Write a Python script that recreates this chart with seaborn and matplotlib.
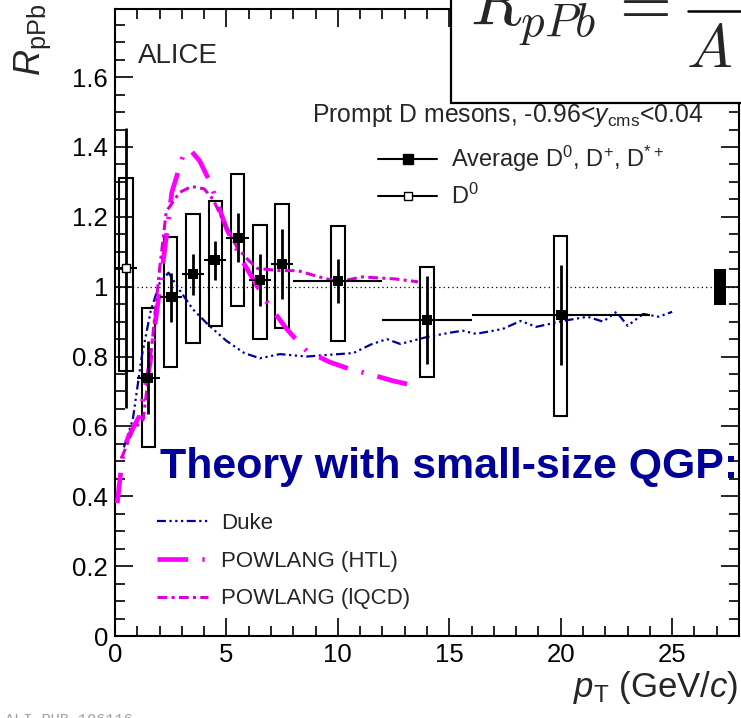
import numpy as np
import pandas as pd
import matplotlib
matplotlib.use("Agg")
import matplotlib.pyplot as plt
import seaborn as sns
from matplotlib.lines import Line2D
from matplotlib.patches import Rectangle
from matplotlib.ticker import MultipleLocator, FuncFormatter

# ---------------- data ----------------
# average of D0, D+, D*+ (filled squares)
pt_avg = np.array([1.5, 2.5, 3.5, 4.5, 5.5, 6.5, 7.5, 10.0, 14.0, 20.0])
pt_avg_lo = np.array([1, 2, 3, 4, 5, 6, 7, 8, 12, 16])
pt_avg_hi = np.array([2, 3, 4, 5, 6, 7, 8, 12, 16, 24])
rppb_avg = np.array([0.74, 0.97, 1.035, 1.075, 1.14, 1.02, 1.065, 1.015, 0.905, 0.92])
stat_avg = np.array([0.105, 0.07, 0.058, 0.057, 0.07, 0.074, 0.10, 0.063, 0.127, 0.143])
syst_avg_up = np.array([0.20, 0.172, 0.173, 0.17, 0.182, 0.158, 0.171, 0.159, 0.151, 0.225])
syst_avg_dn = np.array([0.20, 0.199, 0.197, 0.188, 0.194, 0.169, 0.183, 0.17, 0.164, 0.29])

# D0 only, lowest pT bin (open square)
pt_d0 = np.array([0.5])
pt_d0_lo = np.array([0.0])
pt_d0_hi = np.array([1.0])
rppb_d0 = np.array([1.054])
stat_d0 = np.array([0.40])
syst_d0_up = np.array([0.256])
syst_d0_dn = np.array([0.295])

# normalisation uncertainty
norm_unc = 0.052

# model curves
duke_pt = [0.4, 0.8, 1.2, 1.6, 2.0, 2.4, 2.9, 3.5, 4.2, 5.0, 5.8, 6.5, 7.4, 8.6, 9.6,
           10.7, 11.5, 12.2, 12.8, 14.0, 15.0, 15.6, 16.2, 17.4, 18.2, 18.9, 20.1,
           21.2, 21.9, 22.5, 23.0, 23.7, 24.4, 25.0]
duke_r = [0.54, 0.62, 0.80, 0.93, 1.01, 1.04, 0.99, 0.935, 0.89, 0.845, 0.81, 0.795,
          0.807, 0.80, 0.805, 0.81, 0.835, 0.85, 0.836, 0.856, 0.868, 0.874, 0.865,
          0.879, 0.902, 0.885, 0.902, 0.914, 0.90, 0.928, 0.888, 0.922, 0.914, 0.928]

htl_pt = [0.1, 0.37, 0.6, 1.1, 1.57, 2.0, 2.55, 3.1, 3.4, 3.8, 4.26, 5.0, 5.74, 6.8,
          7.7, 8.6, 9.64, 10.5, 11.4, 12.5, 13.7]
htl_r = [0.38, 0.53, 0.57, 0.63, 0.78, 0.99, 1.27, 1.385, 1.39, 1.36, 1.30, 1.167,
         1.071, 0.957, 0.879, 0.816, 0.784, 0.765, 0.75, 0.73, 0.713]

lqcd_pt = [0.3, 0.8, 1.27, 1.6, 2.0, 2.3, 2.9, 3.44, 4.0, 4.4, 5.0, 5.5, 6.0, 6.4,
           7.4, 8.2, 9.06, 10.0, 11.1, 12.6, 13.6]
lqcd_r = [0.51, 0.59, 0.62, 0.80, 1.05, 1.215, 1.27, 1.287, 1.28, 1.25, 1.17, 1.11,
          1.075, 1.052, 1.046, 1.046, 1.03, 1.014, 1.028, 1.022, 1.014]

model_labels = ["Duke", "POWLANG (HTL)", "POWLANG (lQCD)"]

# ---------------- style ----------------
sns.set_theme(style="ticks")
plt.rcParams["font.family"] = ["Liberation Sans", "DejaVu Sans"]
plt.rcParams["mathtext.fontset"] = "custom"
plt.rcParams["mathtext.rm"] = "Liberation Sans"
plt.rcParams["mathtext.it"] = "Liberation Sans:italic"
plt.rcParams["mathtext.bf"] = "Liberation Sans:bold"

NAVY = "#000099"
MAG = "#ff00ff"
MAG2 = "#d900d9"

W, H = 741, 718
fig = plt.figure(figsize=(W / 100, H / 100), dpi=100)
ax = fig.add_axes([115 / W, 1 - 636 / H, (739 - 115) / W, (636 - 9) / H])
ax.set_xlim(0, 28)
ax.set_ylim(0, 1.795)

# reference line at unity
ax.axhline(1.0, color="black", lw=0.9, ls=(0, (1, 2.5)), zorder=1)

# systematic boxes
ax.bar(pt_avg, syst_avg_up + syst_avg_dn, bottom=rppb_avg - syst_avg_dn, width=0.6,
       fill=False, edgecolor="black", linewidth=1.5, zorder=2)
ax.bar(pt_d0, syst_d0_up + syst_d0_dn, bottom=rppb_d0 - syst_d0_dn, width=0.6,
       fill=False, edgecolor="black", linewidth=1.5, zorder=2)
# normalisation box
ax.bar([27.15], [2 * norm_unc], bottom=1 - norm_unc, width=0.56, color="black",
       edgecolor="black", linewidth=0, zorder=2)

# model curves
sns.lineplot(x=duke_pt, y=duke_r, ax=ax, sort=False, color=NAVY, lw=1.6,
             linestyle=(0, (4, 1.6, 1, 1.6, 1, 1.6, 1, 1.6)), zorder=3)
sns.lineplot(x=htl_pt, y=htl_r, ax=ax, sort=False, color=MAG, lw=3.4,
             linestyle=(0, (6.5, 3.0, 0.5, 3.0)), zorder=3)
sns.lineplot(x=lqcd_pt, y=lqcd_r, ax=ax, sort=False, color=MAG2, lw=2.2,
             linestyle=(0, (3.2, 1.4, 1, 1.4)), zorder=3)
model_lines = ax.get_lines()[-3:]

# statistical error bars
ax.errorbar(pt_avg, rppb_avg, xerr=[pt_avg - pt_avg_lo, pt_avg_hi - pt_avg],
            fmt="none", ecolor="black", elinewidth=1.5, capsize=0, zorder=4)
ax.errorbar(pt_avg, rppb_avg, yerr=stat_avg, fmt="none", ecolor="black",
            elinewidth=2.0, capsize=0, zorder=4)
ax.errorbar(pt_d0, rppb_d0, xerr=[pt_d0 - pt_d0_lo, pt_d0_hi - pt_d0],
            fmt="none", ecolor="black", elinewidth=1.5, capsize=0, zorder=4)
ax.errorbar(pt_d0, rppb_d0, yerr=stat_d0, fmt="none", ecolor="black",
            elinewidth=2.0, capsize=0, zorder=4)

# markers
sns.scatterplot(x=pt_avg, y=rppb_avg, ax=ax, marker="s", s=62, color="black",
                edgecolor="black", linewidth=0, zorder=5)
sns.scatterplot(x=pt_d0, y=rppb_d0, ax=ax, marker="s", s=36, facecolor="white",
                edgecolor="black", linewidth=1.0, zorder=5)

# axes styling
for sp in ax.spines.values():
    sp.set_visible(True)
    sp.set_linewidth(1.5)
    sp.set_color("black")
ax.xaxis.set_major_locator(MultipleLocator(5))
ax.xaxis.set_minor_locator(MultipleLocator(1))
ax.yaxis.set_major_locator(MultipleLocator(0.2))
ax.yaxis.set_minor_locator(MultipleLocator(0.05))
ax.yaxis.set_major_formatter(FuncFormatter(lambda v, p: f"{v:g}"))
ax.xaxis.set_major_formatter(FuncFormatter(lambda v, p: f"{v:g}"))
ax.tick_params(which="both", direction="in", top=True, right=True, color="black",
               width=1.2, labelsize=18.5, labelcolor="black")
ax.tick_params(which="major", length=13)
ax.tick_params(which="minor", length=7)
ax.tick_params(axis="y", which="major", pad=5)
ax.tick_params(axis="x", which="major", pad=5)
ax.set_xlabel("")
ax.set_ylabel("")

# axis titles
fig.text(33 / W, 1 - 4 / H, r"$R_{\mathrm{pPb}}$", rotation=90, ha="center",
         va="top", fontsize=26)
fig.text(738 / W, 1 - 697 / H, r"$p_{\mathrm{T}}$ (GeV/$c$)", ha="right",
         va="baseline", fontsize=25)

# labels in the frame
fig.text(138 / W, 1 - 63 / H, "ALICE", fontsize=20, va="baseline")
fig.text(312 / W, 1 - 122 / H,
         r"Prompt D mesons, -0.96<$y_{\mathrm{cms}}$<0.04", fontsize=17.8,
         va="baseline")
fig.text(160 / W, 1 - 478 / H, "Theory with small-size QGP:", fontsize=30.9,
         fontweight="bold", color=NAVY, va="baseline")

# data legend
h_avg = Line2D([], [], color="black", lw=1.5, marker="s", ms=7.5, mfc="black",
               mec="black")
h_d0 = Line2D([], [], color="black", lw=1.5, marker="s", ms=6, mfc="white",
              mec="black", mew=1.0)
leg1 = ax.legend([h_avg, h_d0],
                 [r"Average D$^{0}$, D$^{+}$, D$^{*+}$", r"D$^{0}$"],
                 loc="upper left", bbox_to_anchor=(378 / W, 1 - 144 / H),
                 bbox_transform=fig.transFigure, frameon=False, fontsize=17,
                 handlelength=2.5, handletextpad=0.6, labelspacing=0.42,
                 borderpad=0, borderaxespad=0)
ax.add_artist(leg1)

# model legend
leg2 = ax.legend(model_lines, model_labels, loc="upper left",
                 bbox_to_anchor=(157 / W, 1 - 513 / H),
                 bbox_transform=fig.transFigure, frameon=False, fontsize=16,
                 handlelength=2.3, handletextpad=0.6, labelspacing=0.75,
                 borderpad=0, borderaxespad=0)

# definition box, top right
fig.patches.append(Rectangle((451 / W, 1 - 103 / H), 0.5, 0.3,
                             transform=fig.transFigure, facecolor="white",
                             edgecolor="black", linewidth=1.6, zorder=6))
fig.text(470 / W, 1 - 26 / H, r"$R_{pPb}\,=$", fontsize=48, math_fontfamily="cm",
         va="baseline", zorder=7)
fig.lines.append(Line2D([688 / W, 1.02], [1 - 11 / H, 1 - 11 / H],
                        transform=fig.transFigure, color="black", lw=1.8,
                        zorder=7))
fig.text(686 / W, 1 - 67 / H, r"$A$", fontsize=44, math_fontfamily="cm",
         va="baseline", zorder=7)

# publication id
fig.text(5 / W, 1 - 724 / H, "ALI-PUB-106116", fontsize=11, color="#a0a0a0",
         family="Liberation Mono", va="baseline")

fig.savefig("out.png", dpi=100)
